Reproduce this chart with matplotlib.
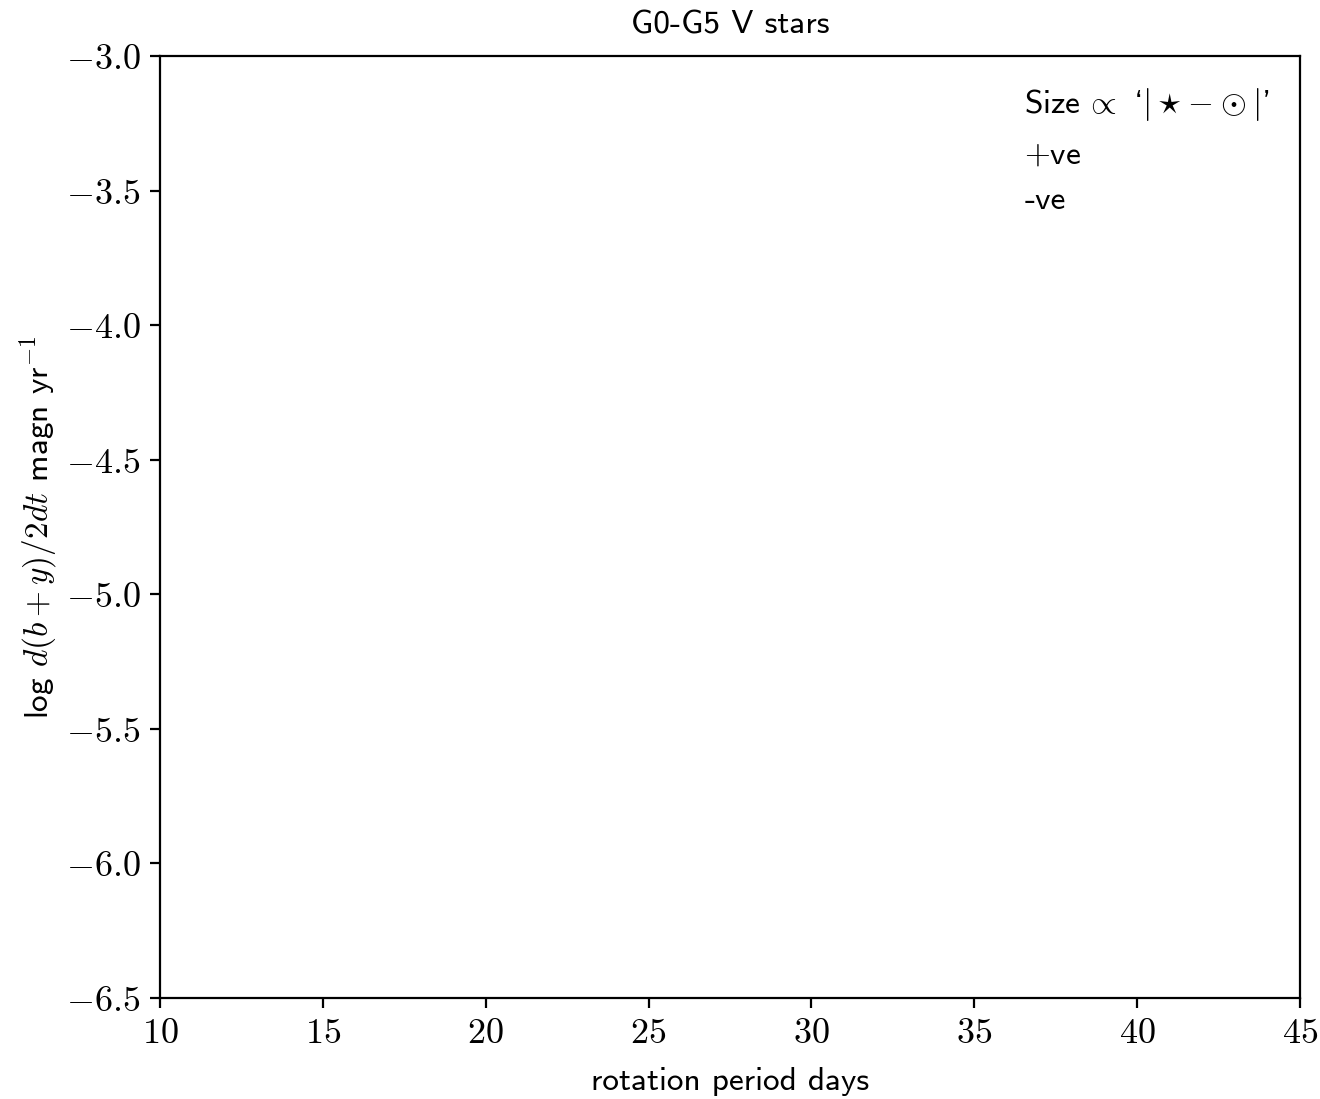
import os
import matplotlib
matplotlib.use("Agg")
import matplotlib.pyplot as plt
from matplotlib import font_manager
from matplotlib.lines import Line2D
from matplotlib.ticker import FuncFormatter, MultipleLocator

font_manager.fontManager.addfont(os.path.join(matplotlib.get_data_path(), "fonts/ttf/cmss10.ttf"))
plt.rcParams["font.family"] = ["cmss10", "DejaVu Sans"]
plt.rcParams["mathtext.fontset"] = "cm"
plt.rcParams["axes.unicode_minus"] = False
plt.rcParams["font.size"] = 12

# Data (the reference shows an empty panel: no stars plotted)
period_days = []
log_rate = []
xlim = (10, 45)
ylim = (-6.5, -3.0)
title = "G0-G5 V stars"
xlabel = "rotation period days"
ylabel = r"log $d(b+y)/2dt$ magn yr$^{-1}$"
legend_labels = [r"Size$\,\propto$ `$|\star\!-\!\odot|$'", r"$+$ve", "-ve"]

fig = plt.figure(figsize=(6.6, 5.495), dpi=200)
ax = fig.add_axes([0.1212, 0.0919, 0.8636, 0.8571])
ax.scatter(period_days, log_rate)
ax.set_xlim(*xlim)
ax.set_ylim(*ylim)
ax.xaxis.set_major_locator(MultipleLocator(5))
ax.yaxis.set_major_locator(MultipleLocator(0.5))
ax.xaxis.set_major_formatter(FuncFormatter(lambda v, p: r"$%d$" % round(v)))
ax.yaxis.set_major_formatter(FuncFormatter(lambda v, p: r"$%.1f$" % v))
ax.tick_params(labelsize=13)
ax.set_title(title, fontsize=12, pad=8)
ax.set_xlabel(xlabel, labelpad=6)
ax.set_ylabel(ylabel, labelpad=2)

handles = [Line2D([], [], linestyle="none") for _ in legend_labels]
ax.legend(handles, legend_labels, loc="upper right", frameon=False,
          handlelength=0, handletextpad=0)

fig.savefig("out.png", dpi=200)
